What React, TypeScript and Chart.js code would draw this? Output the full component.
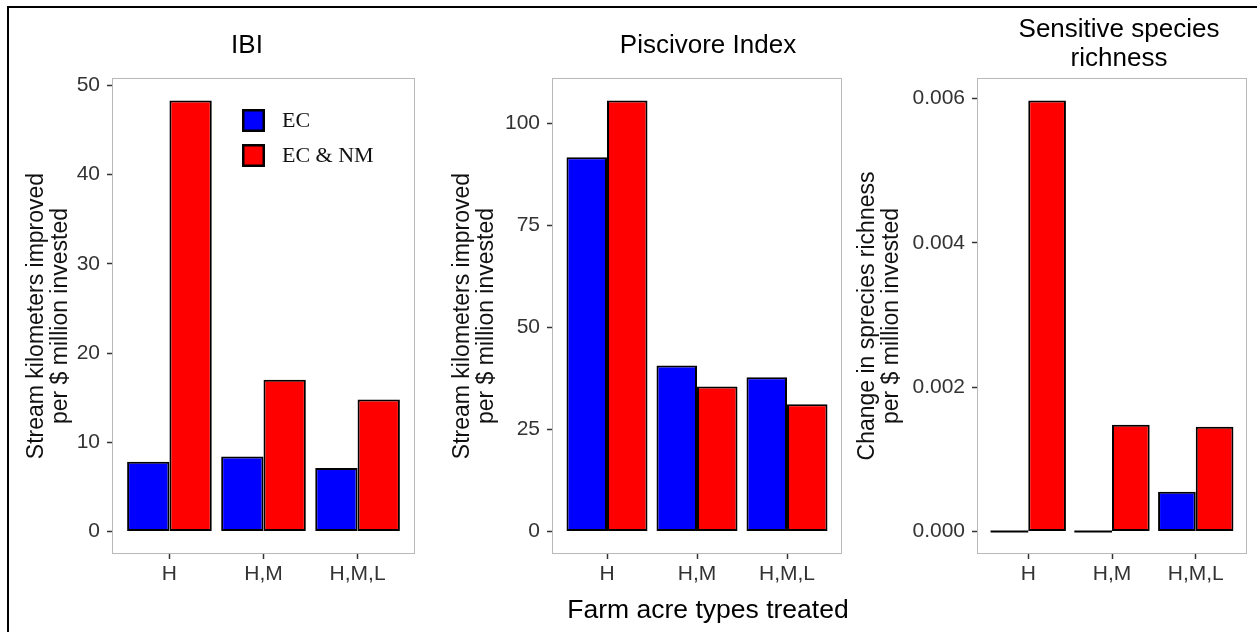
import React, { useEffect, useRef } from "react";
import { Chart, registerables } from "chart.js";

Chart.register(...registerables);

// ---------- data ----------
const categories = ["H", "H,M", "H,M,L"];
const seriesLabels = ["EC", "EC & NM"];
const seriesColors = ["#0000FF", "#FF0000"];

const ibiEC = [7.8, 8.4, 7.1];
const ibiECNM = [48.3, 17.0, 14.8];
const pisEC = [91.7, 40.7, 37.8];
const pisECNM = [105.6, 35.5, 31.2];
const sensEC = [0, 0, 0.00055];
const sensECNM = [0.00597, 0.00148, 0.00145];

const ibiTicks = [0, 10, 20, 30, 40, 50];
const pisTicks = [0, 25, 50, 75, 100];
const sensTicks = [0, 0.002, 0.004, 0.006];

const ibiTitle = ["IBI"];
const pisTitle = ["Piscivore Index"];
const sensTitle = ["Sensitive species", "richness"];
const yTitleStream = ["Stream kilometers improved", "per $ million invested"];
const yTitleSens = ["Change in sprecies richness", "per $ million invested"];
const xTitleText = "Farm acre types treated";

// ---------- layout ----------
const SANS = "'Liberation Sans', Arial, Helvetica, sans-serif";
const SERIF = "'Liberation Serif', 'Times New Roman', serif";
const X_AXIS_H = 40;

type Panel = {
  key: string;
  left: number;
  top: number;
  width: number;
  height: number;
  area: { l: number; r: number; t: number; b: number };
  ec: number[];
  ecnm: number[];
  ticks: number[];
  decimals: number;
  yTitle: string[];
  yTitlePad: number;
  title: string[];
  titleX: number;
  titleY: number;
  legend?: { x: number; y: number; box: number; rowGap: number; textX: number };
  xTitle?: { text: string; x: number; y: number };
};

const panels: Panel[] = [
  {
    key: "ibi",
    left: 10,
    top: 10,
    width: 410,
    height: 620,
    area: { l: 103, r: 404, t: 69, b: 543 },
    ec: ibiEC,
    ecnm: ibiECNM,
    ticks: ibiTicks,
    decimals: 0,
    yTitle: yTitleStream,
    yTitlePad: 15,
    title: ibiTitle,
    titleX: 237,
    titleY: 36,
    legend: { x: 232, y: 99, box: 23, rowGap: 35, textX: 272 },
  },
  {
    key: "pis",
    left: 440,
    top: 10,
    width: 410,
    height: 620,
    area: { l: 113, r: 401, t: 69, b: 543 },
    ec: pisEC,
    ecnm: pisECNM,
    ticks: pisTicks,
    decimals: 0,
    yTitle: yTitleStream,
    yTitlePad: 11,
    title: pisTitle,
    titleX: 268,
    titleY: 36,
    xTitle: { text: xTitleText, x: 268, y: 601 },
  },
  {
    key: "sens",
    left: 850,
    top: 10,
    width: 405,
    height: 620,
    area: { l: 128, r: 396, t: 69, b: 543 },
    ec: sensEC,
    ecnm: sensECNM,
    ticks: sensTicks,
    decimals: 3,
    yTitle: yTitleSens,
    yTitlePad: 6,
    title: sensTitle,
    titleX: 269,
    titleY: 20,
  },
];

// ---------- plugin: panel border, zero bars, titles, legend ----------
const decoPlugin = {
  id: "panelDeco",
  afterDatasetsDraw(chart: any) {
    const ctx = chart.ctx;
    chart.data.datasets.forEach((ds: any, di: number) => {
      const meta = chart.getDatasetMeta(di);
      meta.data.forEach((el: any, i: number) => {
        if (ds.data[i].y === 0) {
          const p = el.getProps(["x", "base", "width"], true);
          ctx.save();
          ctx.strokeStyle = "#000";
          ctx.lineWidth = 2;
          ctx.beginPath();
          ctx.moveTo(p.x - p.width / 2, p.base);
          ctx.lineTo(p.x + p.width / 2, p.base);
          ctx.stroke();
          ctx.restore();
        }
      });
    });
  },
  afterDraw(chart: any, _args: any, opts: any) {
    const ctx = chart.ctx;
    const a = chart.chartArea;
    // panel border
    ctx.save();
    ctx.strokeStyle = "#b8b8b8";
    ctx.lineWidth = 1;
    ctx.strokeRect(a.left - 0.5, a.top - 0.5, a.right - a.left + 1, a.bottom - a.top + 1);
    ctx.restore();

    // title
    ctx.save();
    ctx.fillStyle = "#000";
    ctx.font = `26px ${SANS}`;
    ctx.textAlign = "center";
    ctx.textBaseline = "middle";
    (opts.title || []).forEach((line: string, i: number) => {
      ctx.fillText(line, opts.titleX, opts.titleY + i * 29);
    });
    ctx.restore();

    // x-axis title
    if (opts.xTitle) {
      ctx.save();
      ctx.fillStyle = "#000";
      ctx.font = `26.5px ${SANS}`;
      ctx.textAlign = "center";
      ctx.textBaseline = "middle";
      ctx.fillText(opts.xTitle.text, opts.xTitle.x, opts.xTitle.y);
      ctx.restore();
    }

    // legend
    if (opts.legend) {
      const lg = opts.legend;
      chart.data.datasets.forEach((ds: any, i: number) => {
        const y = lg.y + i * lg.rowGap;
        ctx.save();
        ctx.fillStyle = ds.backgroundColor;
        ctx.fillRect(lg.x, y, lg.box, lg.box);
        ctx.strokeStyle = "#000";
        ctx.lineWidth = 2.5;
        ctx.strokeRect(lg.x + 1.25, y + 1.25, lg.box - 2.5, lg.box - 2.5);
        ctx.fillStyle = "#111";
        ctx.font = `22px ${SERIF}`;
        ctx.textAlign = "left";
        ctx.textBaseline = "middle";
        ctx.fillText(ds.label, lg.textX, y + lg.box / 2 + 1);
        ctx.restore();
      });
    }
  },
};

function PanelChart({ p }: { p: Panel }) {
  const ref = useRef<HTMLCanvasElement>(null);

  useEffect(() => {
    const maxV = Math.max(...p.ec, ...p.ecnm);
    const pad = maxV * 0.05;
    const tickGrid = {
      display: true,
      drawOnChartArea: false,
      drawTicks: true,
      tickLength: 6,
      tickColor: "#333",
      tickWidth: 1.5,
      offset: false,
    };
    const chart = new Chart(ref.current as HTMLCanvasElement, {
      type: "bar",
      data: {
        datasets: [p.ec, p.ecnm].map((vals, k) => ({
          label: seriesLabels[k],
          data: vals.map((v, i) => ({ x: i, y: v })),
          backgroundColor: seriesColors[k],
          borderColor: "#000",
          borderWidth: 2,
          borderSkipped: false,
          categoryPercentage: 0.9,
          barPercentage: 1,
        })),
      } as any,
      options: {
        responsive: false,
        maintainAspectRatio: false,
        animation: false,
        events: [],
        layout: {
          padding: {
            left: 0,
            right: p.width - p.area.r,
            top: p.area.t,
            bottom: p.height - p.area.b - X_AXIS_H,
          },
        },
        plugins: {
          legend: { display: false },
          tooltip: { enabled: false },
          title: { display: false },
          panelDeco: {
            title: p.title,
            titleX: p.titleX,
            titleY: p.titleY,
            legend: p.legend,
            xTitle: p.xTitle,
          },
        } as any,
        scales: {
          x: {
            type: "linear",
            offset: false,
            min: -0.6,
            max: categories.length - 1 + 0.6,
            afterBuildTicks: (s: any) => {
              s.ticks = categories.map((_, i) => ({ value: i }));
            },
            afterFit: (s: any) => {
              s.height = X_AXIS_H;
            },
            grid: tickGrid,
            border: { display: false },
            ticks: {
              autoSkip: false,
              maxRotation: 0,
              minRotation: 0,
              padding: 3,
              color: "#333",
              font: { family: SANS, size: 21 },
              callback: (v: any) => categories[v] ?? "",
            },
          },
          y: {
            type: "linear",
            min: -pad,
            max: maxV + pad,
            afterBuildTicks: (s: any) => {
              s.ticks = p.ticks.map((v) => ({ value: v }));
            },
            afterFit: (s: any) => {
              s.width = p.area.l;
            },
            grid: tickGrid,
            border: { display: false },
            ticks: {
              autoSkip: false,
              padding: 7,
              color: "#333",
              font: { family: SANS, size: 21 },
              callback: (v: any) => Number(v).toFixed(p.decimals),
            },
            title: {
              display: true,
              text: p.yTitle,
              color: "#111",
              font: { family: SANS, size: 23, lineHeight: "24px" },
              padding: { top: p.yTitlePad, bottom: 0 },
            },
          },
        } as any,
      },
      plugins: [decoPlugin as any],
    });
    return () => chart.destroy();
  }, []);

  return (
    <canvas
      ref={ref}
      width={p.width}
      height={p.height}
      style={{
        position: "absolute",
        left: p.left,
        top: p.top,
        width: p.width,
        height: p.height,
      }}
    />
  );
}

export default function App() {
  return (
    <div
      style={{
        position: "fixed",
        left: 0,
        top: 0,
        width: 1257,
        height: 632,
        background: "#fff",
        overflow: "hidden",
      }}
    >
      <div
        style={{
          position: "absolute",
          left: 7,
          top: 6,
          width: 1400,
          height: 800,
          borderTop: "2px solid #000",
          borderLeft: "2px solid #000",
        }}
      />
      {panels.map((p) => (
        <PanelChart key={p.key} p={p} />
      ))}
    </div>
  );
}
